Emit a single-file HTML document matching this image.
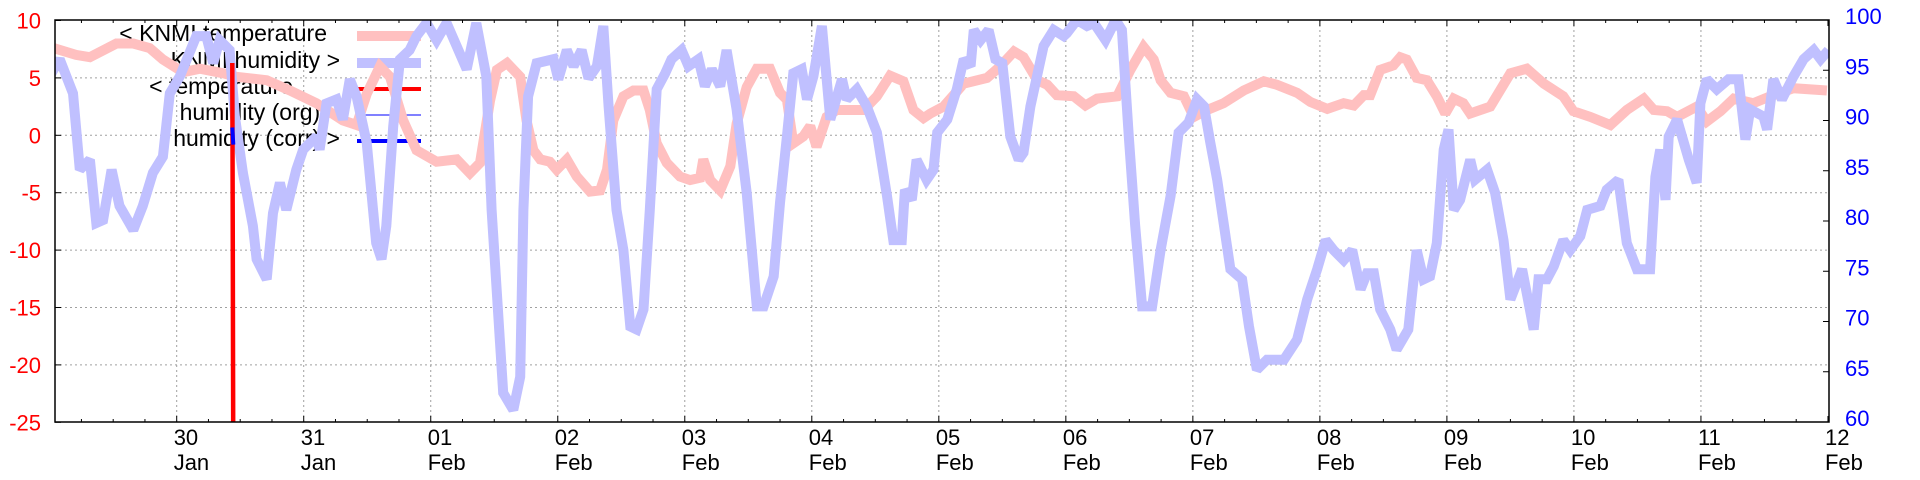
<!DOCTYPE html>
<html><head><meta charset="utf-8"><title>KNMI chart</title>
<style>
html,body{margin:0;padding:0;background:#fff;}
svg{display:block;font-family:"Liberation Sans",sans-serif;}
</style></head>
<body>
<svg id="chart" width="1920" height="480" viewBox="0 0 1920 480" xmlns="http://www.w3.org/2000/svg">
<defs><clipPath id="plotclip"><rect x="55" y="20" width="1774" height="402"/></clipPath></defs>
<g id="grid"></g>
<g id="legend"></g>
<g id="series" clip-path="url(#plotclip)"></g>
<g id="axes"></g>
</svg>
<script>
// hours since 29 Jan 00:00
const knmiTempHours = [0,5.0,7.6,12.6,15.8,18.9,21.4,25.2,28.4,32.8,35.3,41.0,45.4,50.4,55.4,58.0,59.9,62.4,64.3,66.8,69.3,73.1,76.9,79.4,81.3,83.2,84.5,86.4,88.9,90.1,91.4,92.7,94.5,95.8,97.7,99.6,102.1,104.0,105.3,106.5,108.4,110.3,112.2,113.4,114.7,116.6,119.1,121.0,122.9,123.5,124.8,126.7,128.6,129.8,131.7,133.6,136.1,138.0,139.3,140.5,142.4,143.7,144.9,146.8,148.7,151.2,153.8,156.3,158.8,161.3,163.2,165.1,166.4,168.9,172.7,177.1,179.6,182.2,184.0,186.6,188.5,190.3,193.5,195.7,197.9,201.7,204.2,206.7,208.6,209.9,211.8,214.3,216.2,218.7,221.8,225.6,229.4,231.9,235.7,238.2,241.4,244.5,246.4,248.3,249.5,251.4,253.9,255.2,256.4,258.3,260.2,262.1,263.7,265.3,267.1,268.4,272.2,276.0,279.1,282.3,286.0,287.9,291.1,294.9,298.0,301.2,303.1,305.6,307.5,311.2,313.1,315.7,318.2,321.9,325.1,329.5,335.8];
const knmiTempValues = [7.7,7.0,6.8,8.0,8.0,7.6,6.6,5.5,5.8,5.4,5.1,4.8,3.9,2.8,1.3,0.9,3.6,6.0,5.1,1.3,-1.3,-2.3,-2.1,-3.3,-2.4,3.0,5.7,6.3,5.1,1.3,-1.3,-2.1,-2.3,-3.0,-2.1,-3.6,-4.9,-4.8,-3.0,1.3,3.4,3.9,3.9,2.2,-0.7,-2.4,-3.6,-3.9,-3.7,-2.1,-3.9,-4.8,-2.7,1.0,4.2,5.8,5.8,3.7,3.1,-0.7,-0.1,0.8,-1.0,1.6,2.2,2.2,2.2,3.4,5.2,4.7,2.2,1.5,1.9,2.5,4.5,5.0,6.0,7.3,6.8,4.8,4.4,3.5,3.4,2.6,3.2,3.4,5.7,7.7,6.6,4.8,3.7,3.4,1.6,2.2,2.8,3.9,4.7,4.4,3.7,2.9,2.3,2.8,2.6,3.5,3.5,5.7,6.1,6.8,6.6,5.0,4.8,3.4,1.9,3.2,2.8,1.9,2.5,5.4,5.8,4.5,3.4,2.1,1.6,0.9,2.2,3.2,2.2,2.1,1.6,2.5,1.2,2.1,3.2,2.8,3.4,4.1,3.9];
const knmiHumHours = [0,1.9,4.4,5.7,7.6,8.8,10.1,11.7,13.2,15.8,17.6,19.5,21.4,22.7,24.6,27.7,29.6,30.9,32.1,34.0,35.0,36.5,38.4,39.1,41.0,42.2,43.5,44.7,46.6,47.9,50.4,51.0,52.3,54.2,55.4,56.7,58.0,59.9,61.7,62.7,63.6,64.9,66.2,68.0,69.3,71.2,73.1,75.0,78.8,80.6,82.5,83.5,85.7,87.6,88.9,89.5,90.4,92.0,95.2,96.1,97.7,99.0,100.5,101.8,103.4,104.6,105.6,107.1,108.4,109.7,110.9,112.2,113.4,114.7,116.3,117.5,119.4,120.7,122.6,123.8,125.1,126.7,127.9,129.8,131.7,133.6,134.9,136.8,138.0,139.3,140.5,142.1,143.1,144.3,145.9,147.5,149.7,150.6,152.5,154.4,156.3,158.2,159.4,161.0,161.6,162.9,163.8,165.7,167.0,167.7,169.6,171.4,172.7,174.0,174.6,175.9,177.4,178.7,180.0,181.5,183.1,184.0,185.3,187.8,189.7,191.6,192.2,194.1,196.0,197.3,199.5,201.4,202.6,203.9,205.1,206.4,208.3,209.9,211.8,213.3,215.2,216.8,218.1,219.3,220.6,221.8,223.1,225.3,226.6,228.1,230.0,233.2,235.7,237.6,239.5,241.1,242.6,244.5,246.1,247.7,248.9,250.2,251.4,253.3,254.5,256.7,258.3,259.6,260.8,262.1,263.4,264.3,265.3,266.5,268.4,269.3,271.6,273.1,274.7,276.0,278.2,279.1,280.4,281.3,282.9,284.2,286.0,287.3,289.2,290.5,293.0,294.2,296.4,298.0,299.9,302.4,303.4,304.3,305.3,305.9,307.5,309.7,311.2,311.9,313.1,315.0,317.2,319.1,320.4,321.3,323.8,324.5,325.7,327.3,329.5,331.4,333.3,334.6,336.1];
const knmiHumValues = [94.4,96.1,92.7,85.1,86.1,79.8,80.1,85.1,81.5,79.1,81.5,84.8,86.4,92.7,94.4,98.4,98.4,95.7,98.0,97.0,90.4,84.8,79.5,76.2,74.2,80.8,83.8,81.1,85.1,87.1,88.4,87.1,91.7,92.1,90.1,94.1,92.4,87.8,77.8,76.2,79.5,89.4,96.1,97.0,98.4,99.7,98.0,99.7,95.1,99.7,94.4,81.1,62.9,61.2,64.5,81.1,92.4,95.7,96.1,94.1,97.0,95.4,97.0,94.2,95.4,99.4,91.4,81.1,77.1,69.5,69.2,71.2,81.1,93.1,94.7,96.1,97.0,95.4,96.1,93.4,95.1,93.4,97.0,91.1,82.8,71.5,71.5,74.5,81.8,88.4,94.7,95.1,92.1,94.4,99.4,90.1,94.1,92.1,93.1,91.4,88.8,82.5,78.1,78.1,83.1,82.1,86.1,84.1,85.1,88.8,90.1,93.1,96.1,95.4,99.0,98.0,99.0,96.1,95.7,88.4,86.1,86.8,91.4,97.4,99.0,98.4,98.7,100,99.4,99.7,98.0,100,99.0,88.4,79.5,71.5,71.5,77.1,82.5,88.8,89.8,92.1,91.4,87.8,84.1,79.8,75.2,74.2,69.5,65.2,66.2,66.2,68.2,72.2,75.2,78.1,77.1,76.1,77.1,73.2,74.8,74.8,71.2,69.2,67.2,69.2,77.1,74.2,74.5,77.8,87.1,89.1,81.1,82.1,86.1,84.1,85.1,82.8,78.1,72.2,75.2,72.8,69.2,74.2,74.2,75.5,78.1,77.1,78.5,81.1,81.5,83.1,84.1,77.8,75.2,75.2,84.4,87.1,82.1,88.4,90.1,86.1,83.8,91.7,94.1,93.1,94.1,94.1,88.1,91.1,90.4,89.1,94.1,92.1,94.4,96.1,97.0,96.1,97.0];
const tempHours = [34.5,34.6,34.7];
const tempValues = [6.3,-10,-30];
const humCorrHours = [34.5,34.7];
const humCorrValues = [89.3,87.6];
const leftTicks = [10,5,0,-5,-10,-15,-20,-25];
const rightTicks = [100,95,90,85,80,75,70,65,60];
const dayLabels = ["30","31","01","02","03","04","05","06","07","08","09","10","11","12"];
const monthLabels = ["Jan","Jan","Feb","Feb","Feb","Feb","Feb","Feb","Feb","Feb","Feb","Feb","Feb","Feb"];

const NS="http://www.w3.org/2000/svg";
const L=55,R=1829,T=20,B=422;
function xS(h){return 176.7+(h-24)*127.02/24;}
function yT(t){return 135.3-t*11.48;}
function yH(v){return B-(v-60)*10.05;}
function mk(tag,attrs,parent){const e=document.createElementNS(NS,tag);for(const k in attrs)e.setAttribute(k,attrs[k]);parent.appendChild(e);return e;}
const grid=document.getElementById('grid'),axes=document.getElementById('axes'),series=document.getElementById('series'),legend=document.getElementById('legend');

leftTicks.forEach(v=>{const y=yT(v);
 if(v<10&&v>-25){const g=mk('line',{x1:L,x2:R,y1:y,y2:y,stroke:'#a0a0a0','stroke-dasharray':'2,3','stroke-width':1},grid);
 }
 const t=mk('line',{x1:L,x2:L+6,y1:y,y2:y,stroke:'#000'},axes);
 
 const tx=mk('text',{x:41,y:y+8,'text-anchor':'end','font-size':22,fill:'#ff0000'},axes);tx.textContent=v;
 
});
rightTicks.forEach(v=>{const y=yH(v);
 const t=mk('line',{x1:R-6,x2:R,y1:y,y2:y,stroke:'#000'},axes);
 
 const tx=mk('text',{x:1845,y:y+4,'font-size':22,fill:'#0000ff'},axes);tx.textContent=v;
 
});
dayLabels.forEach((d,i)=>{const x=xS(24*(i+1));
 if(i<dayLabels.length-1){const g=mk('line',{x1:x,x2:x,y1:T,y2:B,stroke:'#a0a0a0','stroke-dasharray':'2,3','stroke-width':1},grid);
 }
 const a=mk('text',{x:x-3,y:445,'font-size':22,fill:'#000'},axes);a.textContent=d;
 
 const b=mk('text',{x:x-3,y:470,'font-size':22,fill:'#000'},axes);b.textContent=monthLabels[i];
 
});
for(let h=6;h<=336;h+=6){const x=xS(h);if(x<L)continue;const len=(h%24===0)?6:3;
 const a=mk('line',{x1:x,x2:x,y1:B,y2:B-len,stroke:'#000'},axes);
 const b=mk('line',{x1:x,x2:x,y1:T,y2:T+len,stroke:'#000'},axes);}
const frame=mk('rect',{x:L,y:T,width:R-L,height:B-T,fill:'none',stroke:'#000','stroke-width':1.5},axes);


const leg=[["< KNMI temperature",327,33,'#ffc0c0',10],["KNMI humidity >",340,60,'#c0c0ff',10],["< temperature",293,86,'#ff0000',4],["humidity (org) >",340,112,'#0000ff',1],["humidity (corr) >",340,138,'#0000ff',4]];
leg.forEach(r=>{const t=mk('text',{x:r[1],y:r[2]+8,'text-anchor':'end','font-size':23,fill:'#000'},legend);t.textContent=r[0];
 
 const l=mk('line',{x1:357,x2:421,y1:r[2]+3,y2:r[2]+3,stroke:r[3],'stroke-width':r[4]},legend);
 });

function path(hs,vs,yf,color,w,name){let d='';hs.forEach((h,i)=>{d+=(i?'L':'M')+xS(h).toFixed(1)+','+yf(vs[i]).toFixed(1);});
 const p=mk('path',{d:d,fill:'none',stroke:color,'stroke-width':w,'stroke-linejoin':'miter','stroke-miterlimit':2},series);
 }
path(knmiTempHours,knmiTempValues,yT,'#ffc0c0',10,'knmi-temperature-line');
path(knmiHumHours,knmiHumValues,yH,'#c0c0ff',10,'knmi-humidity-line');
path(tempHours,tempValues,yT,'#ff0000',4.5,'temperature-line');
path(humCorrHours,humCorrValues,yH,'#0000ff',4,'humidity-corr-line');
</script>
</body></html>
